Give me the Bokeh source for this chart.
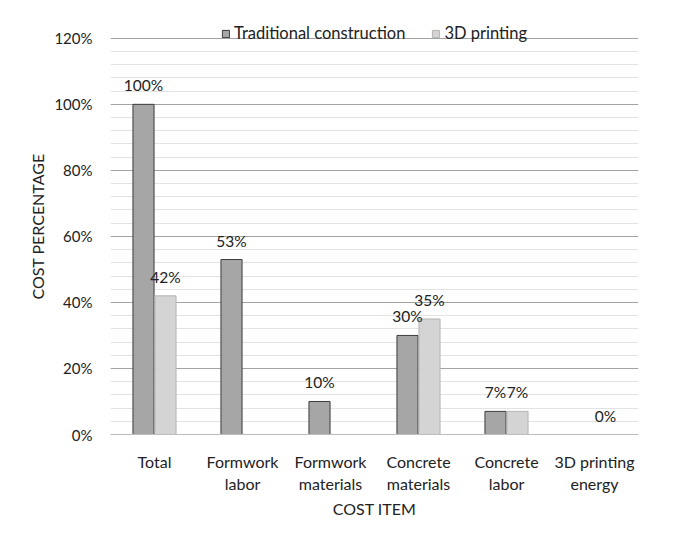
from bokeh.plotting import figure
from bokeh.models import (ColumnDataSource, FactorRange, Range1d, FixedTicker,
                          PrintfTickFormatter, LabelSet, Legend, LegendItem)
from bokeh.core.properties import value
from bokeh.transform import dodge
from bokeh.embed import file_html
from bokeh.resources import INLINE

categories = ["Total", "Formwork\nlabor", "Formwork\nmaterials",
              "Concrete\nmaterials", "Concrete\nlabor", "3D printing\nenergy"]
traditional = [100, 53, 10, 30, 7, None]
printing = [42, None, None, 35, 7, 0]
series_names = ["Traditional construction", "3D printing"]
y_major_ticks = [0, 20, 40, 60, 80, 100, 120]
y_minor_ticks = [v for v in range(0, 121, 4) if v % 20 != 0]

FONT = "Lato"

def make_source(vals):
    cats = [c for c, v in zip(categories, vals) if v is not None]
    tops = [v for v in vals if v is not None]
    return ColumnDataSource(dict(cat=cats, top=tops, lab=[f"{v}%" for v in tops]))

src_t = make_source(traditional)
src_p = make_source(printing)

# frame runs from y=18 to y=434 px; 120% sits at y=38 px (room for the legend above it)
p = figure(width=683, height=536, x_range=FactorRange(*categories, range_padding=0),
           y_range=Range1d(0, 126), output_backend="svg", toolbar_location=None,
           min_border_left=110, min_border_right=45, min_border_top=18, min_border_bottom=102)
p.outline_line_color = None
p.background_fill_color = "white"
p.border_fill_color = "white"

r1 = p.vbar(x=dodge("cat", -0.125, range=p.x_range), top="top", width=0.24, bottom=0,
            source=src_t, fill_color="#a6a6a6", line_color="#3c3c3c", line_width=1)
r2 = p.vbar(x=dodge("cat", 0.125, range=p.x_range), top="top", width=0.24, bottom=0,
            source=src_p, fill_color="#d4d4d4", line_color="#b4b4b4", line_width=1)

for src, off in ((src_t, -0.125), (src_p, 0.125)):
    p.add_layout(LabelSet(x=dodge("cat", off, range=p.x_range), y="top", text="lab",
                          source=src, y_offset=10, text_align="center", text_baseline="bottom",
                          text_font=value(FONT), text_font_size="15.5px", text_color="#222222"))

# y axis
p.yaxis.ticker = FixedTicker(ticks=y_major_ticks, minor_ticks=y_minor_ticks)
p.yaxis.formatter = PrintfTickFormatter(format="%d%%")
p.yaxis.axis_line_color = None
p.yaxis.major_tick_line_color = None
p.yaxis.minor_tick_line_color = None
p.yaxis.major_label_standoff = 12
p.yaxis.axis_label = "COST PERCENTAGE"
p.yaxis.axis_label_standoff = 4
p.yaxis.axis_label_text_font_style = "normal"
p.yaxis.major_label_text_font_size = "15px"

# x axis
p.xaxis.axis_label = "COST ITEM"
p.xaxis.axis_line_color = "#bdbdbd"
p.xaxis.major_tick_line_color = None
p.xaxis.minor_tick_line_color = None
p.xaxis.major_label_standoff = 11
p.xaxis.axis_label_standoff = 3
p.xaxis.axis_label_text_font_style = "normal"
p.xaxis.major_label_text_font_size = "16px"

for ax in (p.xaxis, p.yaxis):
    ax.major_label_text_font = FONT
    ax.major_label_text_color = "#222222"
    ax.axis_label_text_font = FONT
    ax.axis_label_text_font_size = "16px"
    ax.axis_label_text_color = "#222222"

p.xgrid.grid_line_color = None
p.ygrid.grid_line_color = "#a3a3a3"
p.ygrid.minor_grid_line_color = "#e3e3e3"

legend = Legend(items=[LegendItem(label=series_names[0], renderers=[r1]),
                       LegendItem(label=series_names[1], renderers=[r2])],
                orientation="horizontal", location="top_center",
                padding=0, margin=5, spacing=26, label_standoff=4,
                glyph_width=9, glyph_height=9, label_height=16,
                background_fill_alpha=0, border_line_color=None,
                label_text_font=FONT, label_text_font_size="16.5px", label_text_color="#222222")
p.add_layout(legend, "center")

open("out.html", "w").write(file_html(p, INLINE))
